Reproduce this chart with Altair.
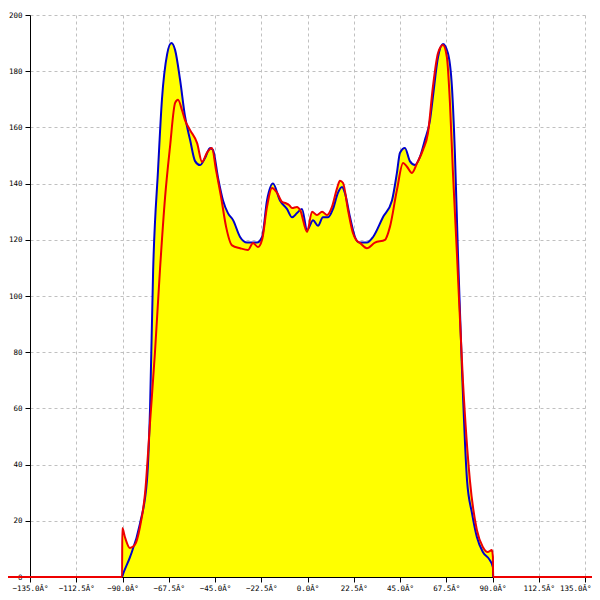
import altair as alt
import pandas as pd

# Blue series (degrees, value)
blue_x = [-90.2, -89.5, -86.4, -81.5, -78.1, -76.6, -75.1, -72.7, -70.8, -68.3, -66.2, -64.4, -62.0,
          -59.6, -57.1, -54.7, -52.3, -49.9, -47.4, -46.0, -43.5, -41.1, -38.7, -36.2, -32.8, -29.4,
          -24.6, -22.1, -19.7, -16.8, -13.4, -10.0, -7.5, -5.1, -2.7, -0.2, 2.7, 5.1, 7.5, 10.0, 12.4,
          14.8, 16.8, 18.2, 20.7, 23.1, 25.2, 28.9, 31.9, 36.7, 41.1, 43.5, 45.0, 47.4, 49.8, 52.3,
          54.7, 57.1, 59.6, 61.0, 63.5, 65.9, 68.3, 70.3, 71.7, 73.2, 75.1, 77.6, 80.0, 82.4, 85.3,
          88.7, 90.2, 90.3]
blue_y = [0, 1.5, 7, 19, 34.5, 60, 109, 145, 170, 186, 190, 187.5, 177,
          164, 155.5, 148, 146.6, 149, 152.7, 152, 142, 134, 129.5, 127, 121, 119,
          119, 121, 134, 140, 134, 131, 128, 129.5, 131, 123.5, 127, 125, 128, 128, 131,
          136.7, 138.8, 136.7, 128, 121, 119, 119, 121, 128, 134, 143.8, 151, 152.7, 148, 146.6,
          149.5, 155.5, 162.6, 170.8, 185, 189.7, 186.5, 174, 151, 115, 75, 34.5, 22.8, 14.2, 8.9,
          6, 3.5, 0]

# Red series (degrees, value)
red_x = [-150, -90.2, -90.1, -88.7, -86.4, -84.0, -81.5, -79.0, -76.6, -74.2, -71.8, -69.3, -66.9,
         -64.4, -63.0, -61.0, -59.6, -57.1, -53.7, -51.3, -48.9, -46.5, -44.5, -42.0, -39.6, -36.7,
         -32.8, -28.9, -26.5, -24.1, -22.1, -19.7, -17.3, -14.8, -12.4, -10.5, -9.0, -7.5, -5.1,
         -3.6, -0.2, 2.2, 4.6, 7.1, 9.5, 11.9, 14.4, 15.8, 17.3, 19.7, 22.1, 23.6, 25.5, 28.9, 32.8,
         37.7, 40.1, 43.5, 46.5, 48.4, 50.8, 53.3, 56.2, 58.6, 61.0, 63.5, 65.9, 67.8, 69.3, 70.7,
         72.7, 75.6, 79.0, 82.4, 85.3, 87.7, 89.7, 90.2, 90.3, 150]
red_y = [0, 0, 17.4, 13.9, 10.3, 11.4, 17.8, 30, 55, 80, 109, 135, 153,
         168.7, 169.8, 166, 162.6, 159, 154.4, 147.7, 151, 152.7, 144.8, 135, 124.6, 118,
         117, 116.4, 118.9, 117.4, 120, 131.7, 138.4, 136.7, 133.5, 133, 132.4, 131.3, 131.7,
         130.6, 122.8, 130, 128.8, 130, 128.8, 131.7, 138.4, 141, 140.2, 130.6, 122.4, 120, 118.9, 117, 119,
         120, 124.6, 137.7, 147.3, 146, 143.8, 147.3, 152, 158, 174.4, 186.5, 189.3, 185, 168.7, 144.8,
         115, 70, 34.5, 16.7, 10.7, 8.9, 9.6, 7, 0, 0]

x_ticks = [-135, -112.5, -90, -67.5, -45, -22.5, 0, 22.5, 45, 67.5, 90, 112.5, 135]
y_ticks = [0, 20, 40, 60, 80, 100, 120, 140, 160, 180, 200]

blue = pd.DataFrame({"x": blue_x, "y": blue_y})
red = pd.DataFrame({"x": red_x, "y": red_y})

xs = alt.Scale(domain=[-135, 135], nice=False, zero=False)
ys = alt.Scale(domain=[0, 200], nice=False)

xax = alt.Axis(
    values=x_ticks, title=None, labelExpr="format(datum.value, '.1f') + 'Â°'",
    labelAngle=0, labelOverlap=False, labelFlush=False, tickSize=5, labelPadding=2,
    labelAlign=alt.condition("datum.value == 135", alt.value("right"), alt.value("center")),
    labelOffset=alt.condition("datum.value == 135", alt.value(6), alt.value(0)),
)
yax = alt.Axis(values=y_ticks, title=None, format="d", tickSize=5, labelPadding=3,
               labelOverlap=False, labelFlush=False)

X = alt.X("x:Q", scale=xs, axis=xax)
Y = alt.Y("y:Q", scale=ys, axis=yax)

interp = "monotone"
area_b = alt.Chart(blue).mark_area(color="#ffff00", opacity=1, interpolate=interp).encode(x=X, y=Y)
area_r = alt.Chart(red[(red.x > -100) & (red.x < 100)]).mark_area(
    color="#ffff00", opacity=1, interpolate=interp).encode(x=X, y=Y)
line_b = alt.Chart(blue).mark_line(color="#0000cc", strokeWidth=2, interpolate=interp).encode(x=X, y=Y)
line_r = alt.Chart(red).mark_line(color="#ee0000", strokeWidth=2, interpolate=interp).encode(x=X, y=Y)

chart = alt.layer(area_b, area_r, line_b, line_r).properties(
    width=555, height=562,
    autosize=alt.AutoSizeParams(type="none"),
    padding={"left": 22, "top": 7, "right": 7, "bottom": 14},
    background="white",
).configure_view(stroke=None).configure_axis(
    domainColor="black", tickColor="black", gridColor="#c0c0c0", gridDash=[3, 3],
    gridWidth=1, labelFont="DejaVu Sans Mono", labelFontSize=7.5, labelColor="black",
)

chart.save("out.html", embed_options={"renderer": "svg", "actions": False})
